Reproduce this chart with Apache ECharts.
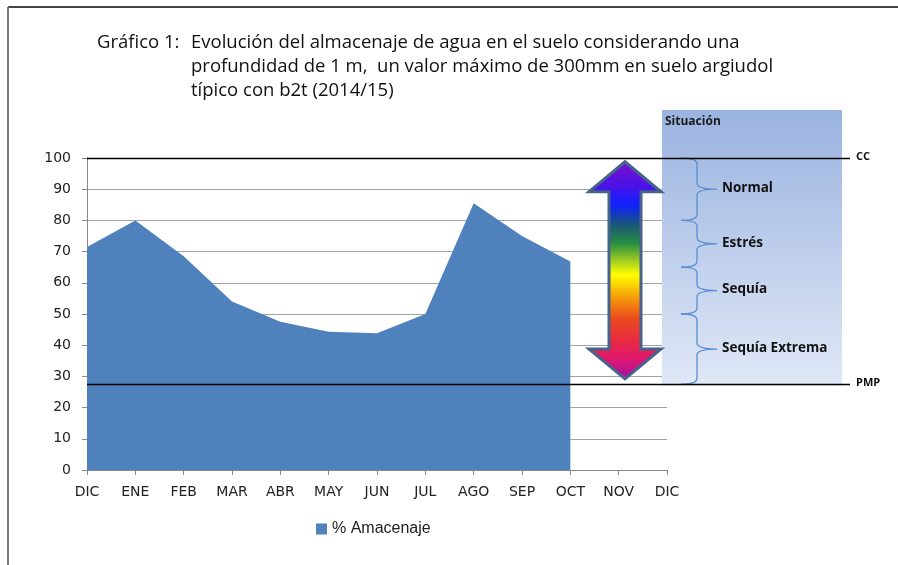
<!DOCTYPE html>
<html>
<head>
<meta charset="utf-8">
<script src="https://cdn.jsdelivr.net/npm/echarts@6/dist/echarts.min.js"></script>
<style>
    html, body { margin: 0; padding: 0; background: #fff; }
    #main { width: 898px; height: 565px; }
</style>
</head>
<body>
<div id="main"></div>
<script>
// datos del grafico
var months = ['DIC', 'ENE', 'FEB', 'MAR', 'ABR', 'MAY', 'JUN', 'JUL', 'AGO', 'SEP', 'OCT', 'NOV', 'DIC'];
var almacenaje = [71.5, 80, 68.5, 54, 47.5, 44.3, 43.8, 50, 85.5, 75, 66.8, null, null];
var yMin = 0, yMax = 100, yStep = 10;
var ccValue = 100;
var pmpValue = 27.5;
var zoneLimits = [100, 80, 65, 50, 27.5];
var zoneNames = ['Normal', 'Estrés', 'Sequía', 'Sequía Extrema'];
var arrowRange = [98.8, 29.2];
var panelRange = [115.4, 26.9];
var titleLines = [
    'Evolución del almacenaje de agua en el suelo considerando una',
    'profundidad de 1 m,  un valor máximo de 300mm en suelo argiudol',
    'típico con b2t (2014/15)'
];

// llave vertical (la punta mira a la derecha)
var Brace = echarts.graphic.extendShape({
    shape: { xs: 0, xe: 0, xt: 0, y1: 0, y2: 0, r: 6 },
    buildPath: function (ctx, s) {
        var ym = (s.y1 + s.y2) / 2;
        ctx.moveTo(s.xe, s.y1);
        ctx.quadraticCurveTo(s.xs, s.y1, s.xs, s.y1 + s.r);
        ctx.lineTo(s.xs, ym - s.r);
        ctx.quadraticCurveTo(s.xs, ym, s.xt, ym);
        ctx.moveTo(s.xt, ym);
        ctx.quadraticCurveTo(s.xs, ym, s.xs, ym + s.r);
        ctx.lineTo(s.xs, s.y2 - s.r);
        ctx.quadraticCurveTo(s.xs, s.y2, s.xe, s.y2);
    }
});
echarts.graphic.registerShape('brace', Brace);

var myChart = echarts.init(document.getElementById('main'));

var option = {
    backgroundColor: '#fff',
    animation: false,
    grid: { left: 87, right: 231, top: 158, bottom: 95 },
    legend: {
        left: 311, top: 516,
        icon: 'rect', itemWidth: 11, itemHeight: 11, itemGap: 4,
        textStyle: { fontSize: 16, color: '#222', fontFamily: 'Liberation Sans' },
        data: ['% Amacenaje']
    },
    xAxis: {
        type: 'category',
        boundaryGap: false,
        data: months,
        axisLine: { lineStyle: { color: '#888', width: 1 } },
        axisTick: { show: true, interval: 0, length: 5, lineStyle: { color: '#888' } },
        axisLabel: { interval: 0, color: '#222', fontFamily: 'DejaVu Sans', fontSize: 14, margin: 15 },
        splitLine: { show: false }
    },
    yAxis: {
        type: 'value',
        min: yMin, max: yMax, interval: yStep,
        axisLine: { show: true, lineStyle: { color: '#888', width: 1 } },
        axisTick: { show: true, length: 5, lineStyle: { color: '#888' } },
        axisLabel: { color: '#222', fontFamily: 'DejaVu Sans', fontSize: 14, margin: 16 },
        splitLine: { lineStyle: { color: '#a3a3a3', width: 1 } }
    },
    series: [{
        name: '% Amacenaje',
        type: 'line',
        data: almacenaje,
        symbol: 'none',
        lineStyle: { width: 0, color: '#4f81bd' },
        itemStyle: { color: '#4f81bd' },
        areaStyle: { color: '#4f81bd', opacity: 1 },
        z: 2
    }]
};

myChart.setOption(option);

// anotaciones: se ubican con la escala del eje
var yPx = function (v) { return myChart.convertToPixel({ yAxisIndex: 0 }, v); };
var xLeft = myChart.convertToPixel({ xAxisIndex: 0 }, 0);

var panelX = 662, panelW = 180;
var lineEnd = 850;
var g = [];

// marco
g.push({ type: 'line', shape: { x1: 8, y1: 7, x2: 898, y2: 7 }, style: { stroke: '#444', lineWidth: 2 }, z: 1 });
g.push({ type: 'line', shape: { x1: 8, y1: 7, x2: 8, y2: 565 }, style: { stroke: '#7a7a7a', lineWidth: 2 }, z: 1 });

// titulo
var titleFont = '18.5px "Open Sans"';
g.push({ type: 'text', x: 97, y: 43, style: { text: 'Gráfico 1:', font: titleFont, fill: '#111', textVerticalAlign: 'middle' }, z: 10 });
titleLines.forEach(function (t, i) {
    g.push({ type: 'text', x: 191, y: 43 + i * 24, style: { text: t, font: titleFont, fill: '#111', textVerticalAlign: 'middle' }, z: 10 });
});

// panel situacion
var pTop = yPx(panelRange[0]), pBot = yPx(panelRange[1]);
g.push({
    type: 'rect', z: 0,
    shape: { x: panelX, y: pTop, width: panelW, height: pBot - pTop },
    style: {
        fill: new echarts.graphic.LinearGradient(0, 0, 0, 1, [
            { offset: 0, color: '#9ab3e0' },
            { offset: 1, color: '#e0e8f6' }
        ])
    }
});
g.push({ type: 'text', x: panelX + 3, y: pTop + 12, style: { text: 'Situación', font: 'bold 12px "Open Sans"', fill: '#1a1a1a', textVerticalAlign: 'middle' }, z: 10 });

// lineas CC y PMP
[[ccValue, 'CC'], [pmpValue, 'PMP']].forEach(function (d) {
    var y = Math.round(yPx(d[0])) + 0.5;
    g.push({ type: 'line', shape: { x1: xLeft, y1: y, x2: lineEnd, y2: y }, style: { stroke: '#000', lineWidth: 1.5 }, z: 20 });
    g.push({ type: 'text', x: lineEnd + 6, y: y - 2, style: { text: d[1], font: 'bold 11px "Open Sans"', fill: '#111', textVerticalAlign: 'middle' }, z: 20 });
});

// llaves y zonas
for (var i = 0; i < zoneNames.length; i++) {
    var y1 = yPx(zoneLimits[i]), y2 = yPx(zoneLimits[i + 1]), ym = (y1 + y2) / 2;
    g.push({
        type: 'brace', z: 15,
        shape: { xs: 697, xe: 681, xt: 717, y1: y1, y2: y2, r: 6 },
        style: { stroke: '#5a8ed0', lineWidth: 1.3, fill: null }
    });
    g.push({ type: 'text', x: 722, y: ym - 1, style: { text: zoneNames[i], font: 'bold 13.5px "Open Sans"', fill: '#111', textVerticalAlign: 'middle' }, z: 15 });
}

// flecha doble
var cx = 625, hw = 36, sw = 16, hh = 30;
var aT = yPx(arrowRange[0]), aB = yPx(arrowRange[1]);
g.push({
    type: 'polygon', z: 18,
    shape: {
        points: [
            [cx, aT], [cx + hw, aT + hh], [cx + sw, aT + hh], [cx + sw, aB - hh], [cx + hw, aB - hh],
            [cx, aB], [cx - hw, aB - hh], [cx - sw, aB - hh], [cx - sw, aT + hh], [cx - hw, aT + hh]
        ]
    },
    style: {
        stroke: '#46638c', lineWidth: 3, lineJoin: 'miter',
        fill: new echarts.graphic.LinearGradient(0, 0, 0, 1, [
            { offset: 0, color: '#7a10c8' },
            { offset: 0.12, color: '#4a12e8' },
            { offset: 0.2, color: '#1020ff' },
            { offset: 0.3, color: '#1a5a70' },
            { offset: 0.38, color: '#2a9040' },
            { offset: 0.46, color: '#a8d020' },
            { offset: 0.52, color: '#ffff00' },
            { offset: 0.63, color: '#f5960a' },
            { offset: 0.72, color: '#ea4a1e' },
            { offset: 0.82, color: '#e82a40' },
            { offset: 0.9, color: '#e0186e' },
            { offset: 1, color: '#a010a8' }
        ])
    }
});

myChart.setOption({ graphic: g });
</script>
</body>
</html>
